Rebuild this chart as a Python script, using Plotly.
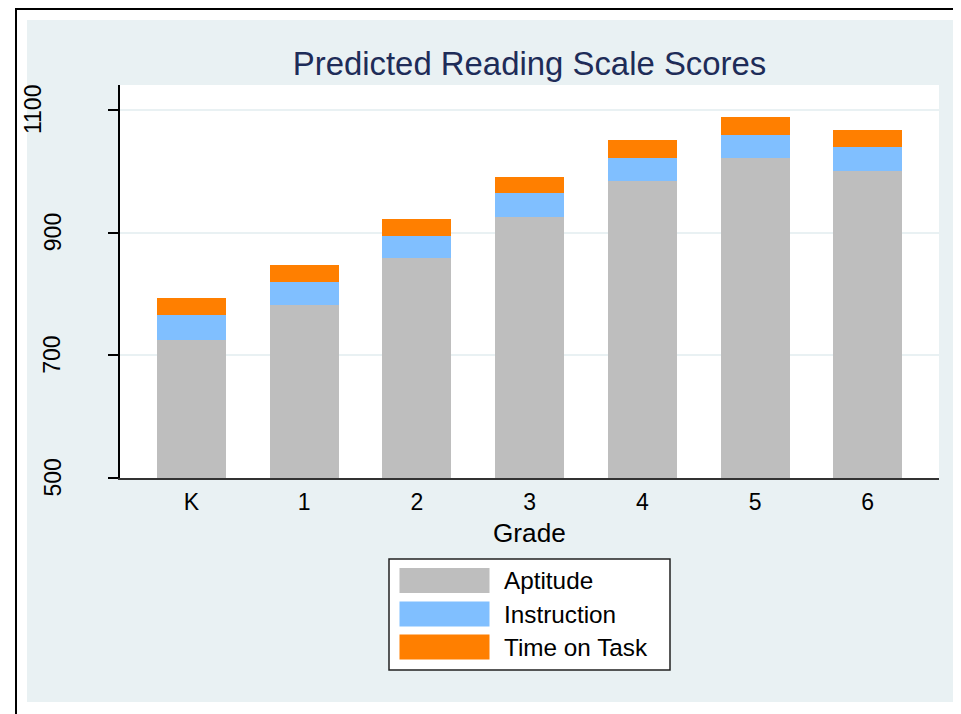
import plotly.graph_objects as go

# ---- data ----
grades = ["K", "1", "2", "3", "4", "5", "6"]
aptitude = [725, 782, 858, 925, 984, 1022, 1000]
instruction = [40, 38, 37, 39, 38, 38, 39]
time_on_task = [28, 28, 28, 27, 29, 29, 28]
series_names = ["Aptitude", "Instruction", "Time on Task"]
y_ticks = [500, 700, 900, 1100]
title_text = "Predicted Reading Scale Scores"
x_title = "Grade"

# ---- styles ----
colors = ["#bebebe", "#80bfff", "#ff7f00"]
bg_light = "#e9f1f3"
FONT = "Liberation Sans, Arial, sans-serif"
WIN_W, WIN_H = 961, 714
OFF = 8  # page body margin
W, H = WIN_W - OFF, WIN_H - OFF
# plot area in window pixel coordinates
L, R, T, B = 120, 939, 85, 478


def px(x):
    return (x - L) / (R - L)


def py(y):
    return (B - y) / (B - T)


fig = go.Figure()
for name, vals, col in zip(series_names, [aptitude, instruction, time_on_task], colors):
    fig.add_trace(go.Bar(x=grades, y=vals, name=name, marker=dict(color=col, line=dict(width=0)),
                         showlegend=False))

shapes = []
# white border strips around light graph region
for (x0, x1, y0, y1) in [(0, 27, 0, WIN_H), (0, WIN_W, 0, 20), (0, WIN_W, 702, WIN_H), (960, WIN_W, 0, WIN_H)]:
    shapes.append(dict(type="rect", xref="paper", yref="paper", x0=px(x0), x1=px(x1), y0=py(y0), y1=py(y1),
                       fillcolor="white", line=dict(width=0), layer="below"))
# black frame lines
shapes.append(dict(type="line", xref="paper", yref="paper", x0=px(15), x1=px(WIN_W), y0=py(9), y1=py(9),
                   line=dict(color="black", width=2)))
shapes.append(dict(type="line", xref="paper", yref="paper", x0=px(16), x1=px(16), y0=py(8), y1=py(WIN_H),
                   line=dict(color="black", width=2)))
# legend box
shapes.append(dict(type="rect", xref="paper", yref="paper", x0=px(389), x1=px(670), y0=py(559), y1=py(670),
                   fillcolor="white", line=dict(color="#222222", width=1.5)))

annotations = []
row_tops = [568, 601.5, 634.5]
for name, col, top in zip(series_names, colors, row_tops):
    shapes.append(dict(type="rect", xref="paper", yref="paper", x0=px(399.5), x1=px(489.5),
                       y0=py(top), y1=py(top + 25), fillcolor=col, line=dict(width=0)))
    annotations.append(dict(xref="paper", yref="paper", x=px(502), y=py(top + 12.5), text=name,
                            showarrow=False, xanchor="left", yanchor="middle",
                            font=dict(family=FONT, size=24.3, color="black")))

# y tick labels (rotated)
for v in y_ticks:
    label = str(v)
    cx = 33 if len(label) > 3 else 52.5
    annotations.append(dict(xref="paper", yref="y", x=px(cx), y=v, text=label, textangle=-90,
                            showarrow=False, xanchor="center", yanchor="middle",
                            font=dict(family=FONT, size=23, color="black")))

# x axis title
annotations.append(dict(xref="paper", yref="paper", x=0.5, y=py(533), text=x_title, showarrow=False,
                        xanchor="center", yanchor="middle", font=dict(family=FONT, size=26.2, color="black")))

fig.update_layout(
    width=W, height=H,
    margin=dict(l=L - OFF, r=WIN_W - R, t=T - OFF, b=WIN_H - B, autoexpand=False),
    barmode="stack", bargap=0.388,
    paper_bgcolor=bg_light, plot_bgcolor="white",
    title=dict(text=title_text, x=0.5, xref="paper", xanchor="center", y=1 - (63 - OFF) / H, yanchor="middle",
               font=dict(family=FONT, size=32.9, color="#1e2c58")),
    shapes=shapes, annotations=annotations,
    showlegend=False,
    xaxis=dict(type="category", range=[-0.634, 6.632], showgrid=False, showline=True,
               linecolor="#333333", linewidth=1.5, ticks="", ticklabelstandoff=3,
               tickfont=dict(family=FONT, size=23, color="black"), zeroline=False, fixedrange=True),
    yaxis=dict(range=[500, 1140.8], tickvals=y_ticks, showticklabels=False, ticks="outside", ticklen=10,
               tickwidth=1.5, tickcolor="black", showline=True, linecolor="black", linewidth=1.5,
               showgrid=True, gridcolor=bg_light, gridwidth=2, zeroline=False),
)

fig.write_html("out.html")
